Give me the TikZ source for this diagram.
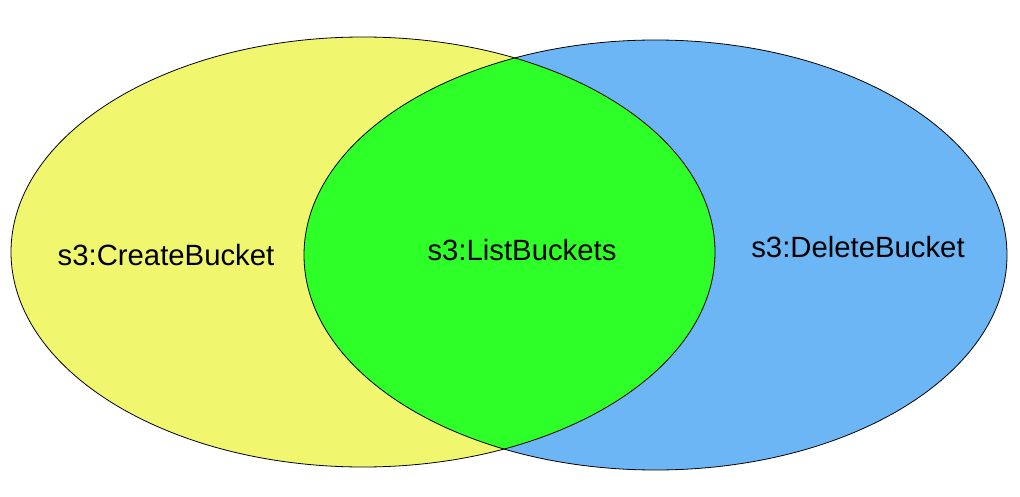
\documentclass[tikz,border=0pt]{standalone}
\usepackage{fontspec}
\setmainfont{Liberation Sans}
\definecolor{venyellow}{RGB}{240,246,110}
\definecolor{venblue}{RGB}{108,182,245}
\definecolor{vengreen}{RGB}{46,255,40}
\tikzset{
  setline/.style={draw=black, line width=0.8pt},
  setlabel/.style={font=\fontsize{29.3}{35}\selectfont, text=black, inner sep=0pt}
}
\begin{document}
\begin{tikzpicture}
\useasboundingbox (0pt,0pt) rectangle (1020pt,-497pt);
% sets
\fill[venyellow] (363pt,-252pt) ellipse [x radius=352pt, y radius=215pt];
\fill[venblue] (655.5pt,-255pt) ellipse [x radius=351.5pt, y radius=215pt];
% intersection
\begin{scope}
  \clip (363pt,-252pt) ellipse [x radius=352pt, y radius=215pt];
  \fill[vengreen] (655.5pt,-255pt) ellipse [x radius=351.5pt, y radius=215pt];
\end{scope}
% outlines
\draw[setline] (363pt,-252pt) ellipse [x radius=352pt, y radius=215pt];
\draw[setline] (655.5pt,-255pt) ellipse [x radius=351.5pt, y radius=215pt];
% labels
\node[setlabel] (create) at (166pt,-255pt) {s3:CreateBucket};
\node[setlabel] (list) at (522pt,-250pt) {s3:ListBuckets};
\node[setlabel] (delete) at (858pt,-247pt) {s3:DeleteBucket};
\end{tikzpicture}
\end{document}
